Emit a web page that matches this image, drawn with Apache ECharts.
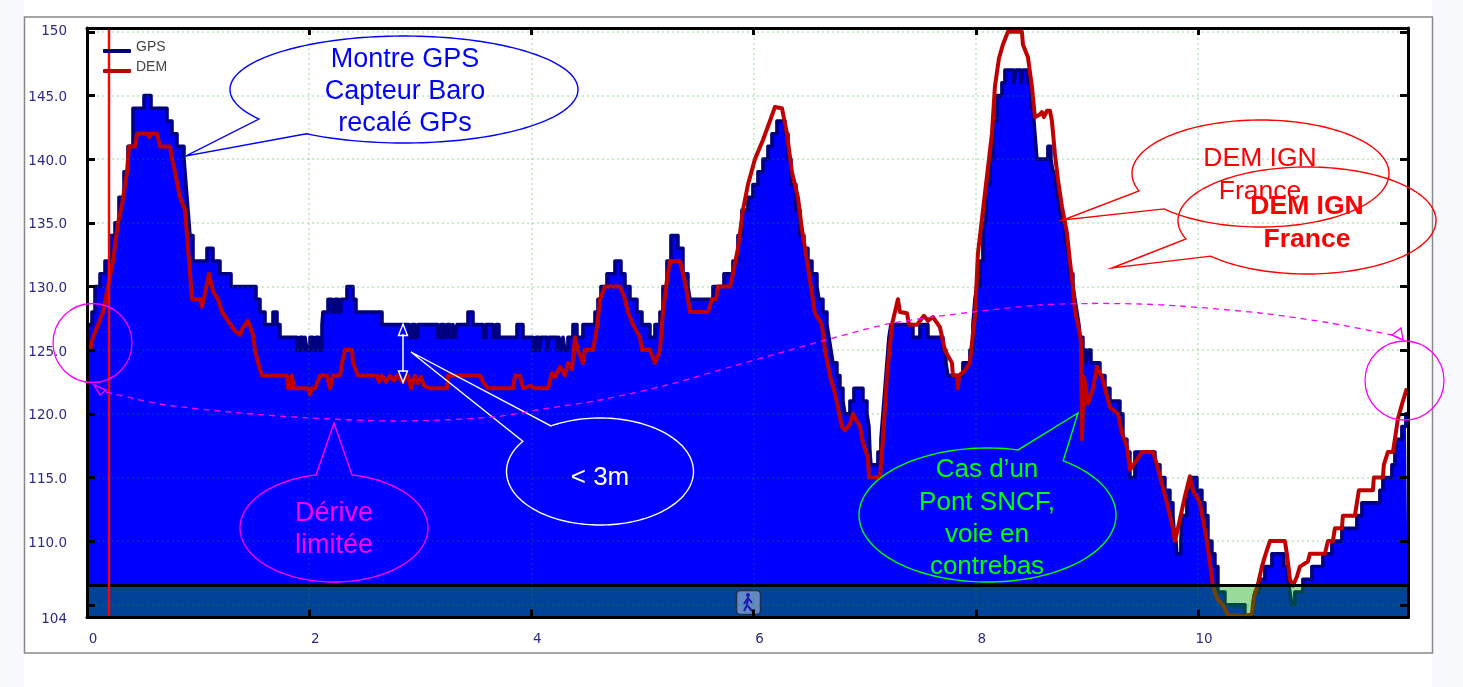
<!DOCTYPE html>
<html><head><meta charset="utf-8">
<style>html,body{margin:0;padding:0;background:#f8f9fd}#c{width:1463px;height:687px}</style>
<script src="https://cdn.jsdelivr.net/npm/echarts@6/dist/echarts.min.js"></script>
</head><body><div id="c"></div>
<script>
// distance (km), altitude (m)
const gpsProfile = [[0,127],[.045,128],[.072,130],[.117,131],[.162,132],[.207,134],[.252,135],[.288,137],[.333,139],[.369,141],[.414,144],[.513,145],[.576,144],[.72,143],[.765,142],[.81,141],[.873,140],[.891,138],[.909,136],[.927,134],[.954,132],[1.08,133],[1.134,132],[1.197,131],[1.296,130],[1.521,129],[1.557,128],[1.602,127],[1.674,128],[1.71,127],[1.737,126],[1.89,125],[1.917,126],[1.944,125],[1.962,126],[1.98,125],[2.007,126],[2.034,125],[2.061,126],[2.088,125],[2.115,127],[2.124,128],[2.169,129],[2.205,128],[2.232,129],[2.259,128],[2.286,129],[2.34,130],[2.394,129],[2.421,128],[2.655,127],[2.898,126],[2.925,127],[2.952,126],[2.979,127],[3.159,126],[3.186,127],[3.213,126],[3.24,127],[3.267,126],[3.294,127],[3.312,126],[3.33,127],[3.429,128],[3.474,127],[3.564,126],[3.591,127],[3.654,126],[3.681,127],[3.708,126],[3.87,127],[3.924,126],[4.014,125],[4.041,126],[4.068,125],[4.086,126],[4.14,125],[4.158,126],[4.23,125],[4.248,126],[4.266,125],[4.284,126],[4.302,125],[4.329,126],[4.374,127],[4.41,126],[4.464,127],[4.572,128],[4.599,129],[4.626,130],[4.68,131],[4.752,132],[4.806,131],[4.842,130],[4.887,129],[4.95,128],[4.995,127],[5.067,126],[5.112,127],[5.157,128],[5.184,130],[5.22,132],[5.256,134],[5.319,133],[5.364,131],[5.409,130],[5.427,129],[5.634,130],[5.733,131],[5.814,132],[5.859,134],[5.895,136],[5.949,137],[5.994,138],[6.039,139],[6.084,140],[6.129,141],[6.165,142],[6.21,143],[6.282,142],[6.309,140],[6.336,138],[6.381,136],[6.417,134],[6.453,133],[6.489,132],[6.525,131],[6.57,130],[6.588,129],[6.624,128],[6.66,127],[6.678,126],[6.696,125],[6.714,124],[6.75,123],[6.777,122],[6.804,121],[6.822,120],[6.867,121],[6.903,122],[6.984,121],[7.02,120],[7.038,119],[7.047,117],[7.056,116],[7.119,117],[7.146,118],[7.164,120],[7.182,122],[7.2,124],[7.218,126],[7.236,127],[7.434,126],[7.497,127],[7.569,126],[7.704,125],[7.731,124],[7.749,123],[7.884,124],[7.947,125],[7.974,127],[7.992,129],[8.01,130],[8.037,132],[8.064,135],[8.091,138],[8.127,140],[8.154,143],[8.19,145],[8.235,146],[8.262,147],[8.343,146],[8.361,147],[8.406,146],[8.424,147],[8.469,146],[8.496,144],[8.523,143],[8.532,142],[8.55,140],[8.649,141],[8.676,140],[8.694,139],[8.721,138],[8.739,137],[8.757,136],[8.775,135],[8.802,134],[8.82,133],[8.838,132],[8.847,131],[8.874,130],[8.892,129],[8.91,128],[8.928,127],[8.937,126],[8.964,125],[8.991,124],[9.009,125],[9.036,124],[9.117,123],[9.162,122],[9.207,121],[9.297,120],[9.324,118],[9.36,117],[9.387,115],[9.432,117],[9.612,116],[9.657,115],[9.702,114],[9.747,113],[9.774,112],[9.783,111],[9.801,110],[9.81,109],[9.846,110],[9.855,112],[9.9,114],[9.927,115],[9.99,114],[10.035,113],[10.062,112],[10.089,110],[10.125,109],[10.152,108],[10.179,106],[10.242,105],[10.422,104],[10.494,105],[10.512,106],[10.557,107],[10.602,108],[10.665,109],[10.773,108],[10.809,107],[10.827,106],[10.845,105],[10.872,106],[10.944,107],[11.025,108],[11.124,109],[11.205,110],[11.295,111],[11.43,112],[11.475,113],[11.637,114],[11.664,115],[11.745,116],[11.772,117],[11.79,118],[11.835,119],[11.871,120],[11.889,120]];
const demProfile = [[0,125],[.027,125],[.054,126],[.099,127],[.144,128],[.189,130],[.234,132],[.279,135],[.315,136.4],[.36,139],[.378,141],[.432,141],[.45,142],[.549,142],[.558,141.7],[.567,142],[.63,142],[.657,141],[.747,141],[.765,140],[.792,139],[.837,137],[.882,136],[.909,133],[.927,131],[.945,129],[1.017,129],[1.035,128.4],[1.062,129.5],[1.098,131],[1.134,129.6],[1.179,129],[1.215,128],[1.269,127.3],[1.332,126.5],[1.377,126.2],[1.404,126.8],[1.449,127.3],[1.494,126.2],[1.512,125],[1.539,124],[1.575,123],[1.8,123],[1.809,122],[1.836,122],[1.845,123],[1.863,122],[1.989,122],[2.007,121.5],[2.025,122],[2.052,122],[2.097,123],[2.16,123],[2.187,122],[2.214,123],[2.277,123],[2.295,124],[2.322,125],[2.385,125],[2.394,124],[2.439,123],[2.61,123],[2.628,122.5],[2.655,123],[2.691,122.5],[2.727,123],[2.763,122.6],[2.79,123],[2.844,122.5],[2.889,123],[2.916,122],[2.952,123],[2.979,122.4],[3.006,122.9],[3.033,122.2],[3.087,122],[3.24,122],[3.249,123],[3.537,123],[3.564,122.5],[3.609,122],[3.834,122],[3.852,123],[3.897,123],[3.924,122],[3.987,122.2],[4.032,122],[4.149,122],[4.185,123.2],[4.212,122.9],[4.257,123.7],[4.302,123],[4.329,124],[4.365,123.5],[4.392,126],[4.419,125],[4.464,124],[4.482,125],[4.554,125],[4.59,126.8],[4.617,129],[4.662,130],[4.797,130],[4.842,129],[4.869,128],[4.914,127],[4.977,126],[4.995,125],[5.067,125],[5.112,124],[5.157,125],[5.184,128],[5.22,130.5],[5.247,132],[5.337,132],[5.364,131],[5.391,130],[5.427,128],[5.589,128],[5.625,129],[5.661,129],[5.679,130],[5.787,130],[5.814,131],[5.859,133],[5.904,136],[5.949,138],[6.012,140],[6.084,141.5],[6.147,143],[6.192,144.1],[6.255,144],[6.3,142],[6.345,139],[6.399,137],[6.435,134.5],[6.48,132],[6.516,130],[6.552,127.9],[6.615,127],[6.642,125],[6.687,123],[6.732,121.6],[6.795,119],[6.822,118.7],[6.867,119.2],[6.894,120],[6.93,119.4],[6.957,119],[6.984,117.7],[7.029,116.6],[7.038,115],[7.137,115],[7.164,118],[7.2,123],[7.245,127],[7.272,128],[7.299,129],[7.317,128],[7.38,127.9],[7.398,127],[7.47,127],[7.533,127.7],[7.569,127.3],[7.614,127.6],[7.677,126.8],[7.722,125],[7.785,124],[7.794,123],[7.83,123],[7.839,122],[7.848,123],[7.902,123.4],[7.947,124],[7.974,126.3],[7.992,127.6],[8.019,132.6],[8.082,137.3],[8.145,142],[8.172,145.7],[8.208,147.9],[8.244,149],[8.289,150],[8.415,150],[8.424,149],[8.469,148],[8.505,145.7],[8.532,143.3],[8.577,143.5],[8.595,143.7],[8.613,143.3],[8.64,143.8],[8.667,143.8],[8.685,143],[8.712,140.4],[8.739,138.4],[8.775,136.3],[8.82,134.2],[8.847,132],[8.874,130],[8.892,128.1],[8.919,127],[8.946,125.8],[8.955,118],[8.964,118],[8.973,122.9],[9.009,120.8],[9.054,122],[9.09,123.7],[9.135,122.9],[9.162,122],[9.207,120.5],[9.279,120],[9.315,118.5],[9.36,117.4],[9.387,115.6],[9.45,116.4],[9.495,117],[9.594,117],[9.63,116],[9.657,115.1],[9.72,113],[9.774,111],[9.792,110],[9.819,111],[9.882,113.5],[9.927,115.1],[9.954,114],[10.017,113],[10.08,110],[10.107,108.3],[10.134,106.5],[10.17,105.5],[10.224,105],[10.269,104.2],[10.422,104.1],[10.485,104.3],[10.503,105.6],[10.539,106.6],[10.575,108],[10.602,108.8],[10.647,110],[10.782,110],[10.8,109],[10.827,107],[10.854,106.5],[10.89,107.2],[10.917,108],[10.989,108.4],[11.007,109],[11.142,109],[11.169,110],[11.214,110],[11.232,111],[11.295,111],[11.304,112],[11.412,112],[11.43,113],[11.448,114],[11.574,114],[11.583,115],[11.664,115],[11.673,116],[11.709,117],[11.754,117],[11.772,118],[11.799,119.6],[11.844,121],[11.88,122]];
const xTicks = [0,2,4,6,8,10];
const yTicks = [105,110,115,120,125,130,135,140,145,150];
const yLabels = [104,110,115,120,125,130,135,140,145,150];
const xMax = 11.89, yMin = 104, yMax = 150.3;
const bandTop = 106.5;
const cursorKm = 0.2;

const annoFont = '"Liberation Sans",Arial,sans-serif';
const outline = (points, color) => ({type:'polygon', z:100, silent:true, shape:{points}, style:{fill:'none', stroke:color, lineWidth:1.4}});
// speech bubble: ellipse arc from p1 round the long way to p2, then the tail tip
const bubble = (cx, cy, rx, ry, p1, p2, tip, color) => {
  const a1 = Math.atan2((p1[1]-cy)/ry, (p1[0]-cx)/rx), a2 = Math.atan2((p2[1]-cy)/ry, (p2[0]-cx)/rx);
  let d = a2 - a1;
  if (Math.abs(d) < Math.PI) d += d > 0 ? -2*Math.PI : 2*Math.PI;
  const pts = [];
  for (let i = 0; i <= 160; i++) { const a = a1 + d*i/160; pts.push([cx + rx*Math.cos(a), cy + ry*Math.sin(a)]); }
  pts.push(tip);
  return outline(pts, color);
};
const note = (text, x, y, color, size, lh, weight) => ({type:'text', z:101, silent:true, x, y, style:{text, fill:color, align:'center', verticalAlign:'middle', lineHeight:lh, font:(weight||'normal')+' '+size+'px '+annoFont}});

const graphics = [
  {type:'rect', z:-10, silent:true, shape:{x:24,y:0,width:1408,height:687}, style:{fill:'#ffffff'}},
  {type:'rect', z:-9, silent:true, shape:{x:24.5,y:17,width:1408,height:636}, style:{fill:'none',stroke:'#888888',lineWidth:1.5}},
  // callouts
  bubble(404,89.5,174,53.5,[306,134],[259,119],[186,156],'#0000ff'),
  note('Montre GPS\nCapteur Baro\nrecalé GPs',405,92,'#0000ff',27,32),
  bubble(1260.5,173.5,128.5,53.5,[1164,209],[1139,191],[1063,220],'#ff0000'),
  note('DEM IGN\nFrance',1260,175.5,'#ff0000',26.5,33),
  bubble(1307,220.5,129,53.5,[1211,256],[1186,239],[1112,268],'#ff0000'),
  note('DEM IGN\nFrance',1307,223.5,'#ff0000',26.5,33,'bold'),
  bubble(334,528,94,54,[352,475],[316,475],[334,423],'#ff00ff'),
  note('Dérive\nlimitée',334,530,'#ff00ff',27,32),
  bubble(600,471.5,93.5,53.5,[551,426],[522,441],[411,352],'#ffffff'),
  note('< 3m',600,478,'#ffffff',26,32),
  bubble(987.5,515,128.5,67,[1063,461],[1018,450],[1078,413],'#00ff00'),
  note('Cas d\u2019un\nPont SNCF,\nvoie en\ncontrebas',987,518.5,'#00ff00',26,32.3),
  // drift circles
  {type:'circle', z:100, silent:true, shape:{cx:92.5,cy:343,r:39.5}, style:{fill:'none',stroke:'#ff00ff',lineWidth:1.3}},
  {type:'circle', z:100, silent:true, shape:{cx:1404.5,cy:380.5,r:39.5}, style:{fill:'none',stroke:'#ff00ff',lineWidth:1.3}},
  // drift curve
  {type:'polyline', z:100, silent:true, shape:{smooth:0.3, points:[[106,392],[160,404],[230,412],[310,418],[400,421],[493,417],[543,409],[600,400],[667,385],[730,367],[790,350],[833,338],[893,323],[973,312],[1040,305],[1090,303.5],[1140,304],[1180,306],[1260,313],[1330,323],[1397,336]]}, style:{fill:'none',stroke:'#ff00ff',lineWidth:1.3,lineDash:[6,5]}},
  outline([[94,385],[106,390],[100,395]],'#ff00ff'),
  outline([[1403,340],[1392,335],[1401,328]],'#ff00ff'),
  // 3 m double arrow
  {type:'line', z:100, silent:true, shape:{x1:403,y1:334,x2:403,y2:372}, style:{stroke:'#ffffff',lineWidth:1.5}},
  outline([[403,324],[398.5,335.5],[407.5,335.5]],'#ffffff'),
  outline([[403,382.5],[398.5,371],[407.5,371]],'#ffffff'),
  // walker button
  {type:'rect', z:9, silent:true, shape:{x:736.5,y:590.5,width:24,height:24,r:4}, style:{fill:'#6389c9',stroke:'#1d2f55',lineWidth:1.5}},
  {type:'circle', z:9, silent:true, shape:{cx:748,cy:595,r:2}, style:{fill:'#1a1ab0'}},
  {type:'polyline', z:9, silent:true, shape:{points:[[744,604],[748,598],[752,603]]}, style:{fill:'none',stroke:'#1a1ab0',lineWidth:2}},
  {type:'polyline', z:9, silent:true, shape:{points:[[748,598],[747,605],[744,611]]}, style:{fill:'none',stroke:'#1a1ab0',lineWidth:2}},
  {type:'polyline', z:9, silent:true, shape:{points:[[747,605],[752,611]]}, style:{fill:'none',stroke:'#1a1ab0',lineWidth:2}}
];

const axisLine = {onZero:false, lineStyle:{color:'#000',width:3}};
const tickStyle = {color:'#000',width:3};
const labelFont = {color:'#2b2b86', fontFamily:'"DejaVu Sans",sans-serif', fontSize:13.5};
const dots = {show:true, lineStyle:{color:'rgba(0,170,0,0.27)', width:1.5, type:[2,3]}};

const chart = echarts.init(document.getElementById('c'), null, {renderer:'canvas'});
chart.setOption({
  animation:false,
  backgroundColor:'#f8f9fd',
  grid:{left:87, right:55, top:28, bottom:69.5, containLabel:false},
  legend:{left:98, top:35, orient:'vertical', itemWidth:28, itemHeight:4, itemGap:6, selectedMode:false, z:20,
    formatter:'{a|{name}}',
    textStyle:{color:'#444', fontFamily:annoFont, fontSize:14,
      rich:{a:{color:'#444', fontFamily:annoFont, fontSize:14, padding:[0,0,8,0]}}},
    data:[{name:'GPS',icon:'roundRect'},{name:'DEM',icon:'roundRect'}]},
  xAxis:[
    {type:'value', position:'bottom', min:0, max:xMax, z:10, axisLine,
     axisTick:{inside:true,length:8,lineStyle:tickStyle,customValues:xTicks},
     axisLabel:{...labelFont,margin:15,padding:[0,0,0,12],customValues:xTicks,formatter:v=>String(v)},
     splitLine:dots},
    {type:'value', position:'top', min:0, max:xMax, z:10, axisLine,
     axisTick:{inside:true,length:7,lineStyle:tickStyle,customValues:xTicks},
     axisLabel:{show:false}, splitLine:{show:false}}
  ],
  yAxis:[
    {type:'value', position:'left', min:yMin, max:yMax, z:10, axisLine,
     axisTick:{inside:true,length:8,lineStyle:tickStyle,customValues:yTicks},
     axisLabel:{...labelFont,margin:20,customValues:yLabels,
       formatter:v=>v===150?'150':(v===104?'{a|104}':'{a|'+v.toFixed(1)+'}'),
       rich:{a:{...labelFont,padding:[4,0,0,0]}}},
     splitLine:dots},
    {type:'value', position:'right', min:yMin, max:yMax, z:10, axisLine,
     axisTick:{inside:true,length:8,lineStyle:tickStyle,customValues:yTicks},
     axisLabel:{show:false}, splitLine:{show:false}}
  ],
  series:[
    {name:'GPS', type:'line', z:2, step:'end', data:gpsProfile, showSymbol:false, silent:true,
     itemStyle:{color:'#000080'}, lineStyle:{color:'#000080',width:3.6,join:'round'},
     areaStyle:{color:'#0000ff',origin:'start',opacity:1}},
    {name:'DEM', type:'line', z:3, data:demProfile, showSymbol:false, silent:true,
     itemStyle:{color:'#c00000'}, lineStyle:{color:'#c00000',width:4,join:'round'}},
    {name:'band', type:'line', z:4, data:[], silent:true,
     markArea:{z:4, silent:true, itemStyle:{color:'rgba(0,165,0,0.404)'}, data:[[{xAxis:0,yAxis:yMin},{xAxis:xMax,yAxis:bandTop}]]},
     markLine:{z:5, silent:true, symbol:'none', label:{show:false}, animation:false,
       data:[
         {yAxis:bandTop, lineStyle:{color:'#000',width:3,type:'solid'}},
         {xAxis:cursorKm, lineStyle:{color:'#ff0000',width:2.4,type:'solid'}}
       ]}}
  ],
  graphic:{elements:graphics}
});
</script></body></html>
